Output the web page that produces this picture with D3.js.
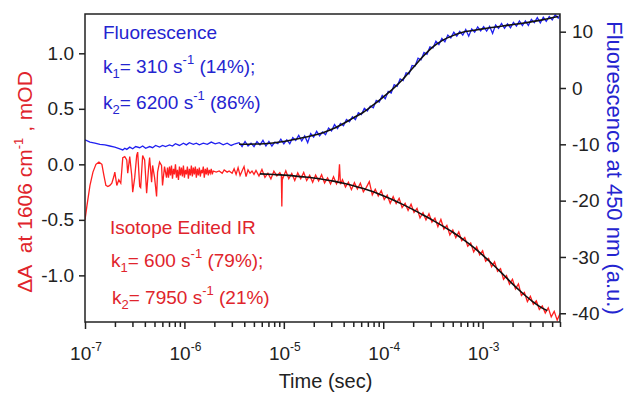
<!DOCTYPE html>
<html>
<head>
<meta charset="utf-8">
<script src="https://cdn.jsdelivr.net/npm/d3@7"></script>
<style>
  body { margin: 0; background: #fff; }
  svg { display: block; font-family: "Liberation Sans", Arial, sans-serif; }
</style>
</head>
<body>
<div id="chart"></div>
<script>
// time values are stored as log10(seconds)

// isotope edited IR trace, [log10 t, mOD]
const irRaw = [
  [-7.00,-0.50],[-6.98,-0.37],[-6.95,-0.19],[-6.92,-0.07],[-6.89,0.00],[-6.86,0.02],[-6.83,0.00],[-6.81,-0.10],
  [-6.79,-0.19],[-6.77,-0.20],[-6.75,-0.19],[-6.73,-0.17],[-6.71,-0.11],[-6.70,-0.07],[-6.68,-0.19],[-6.66,-0.14],
  [-6.64,-0.17],[-6.62,0.06],[-6.60,0.07],[-6.58,0.04],[-6.57,-0.08],[-6.55,0.07],[-6.53,-0.10],[-6.52,-0.25],
  [-6.50,-0.12],[-6.48,0.08],[-6.47,0.11],[-6.45,-0.20],[-6.44,-0.21],[-6.42,0.08],[-6.40,0.04],[-6.38,-0.26],
  [-6.36,-0.03],[-6.35,0.06],[-6.33,-0.16],[-6.32,-0.01],[-6.30,-0.12],[-6.28,-0.29],[-6.27,-0.07],[-6.25,0.02],
  [-6.23,-0.01],[-6.22,-0.19],[-6.20,-0.02],[-6.18,-0.12],
  [-6.17,-0.03],[-6.16,-0.12],[-6.15,-0.02],[-6.14,-0.10],[-6.13,-0.01],[-6.12,-0.13],[-6.11,-0.04],[-6.10,-0.09],
  [-6.09,0.00],[-6.08,-0.12],[-6.07,-0.05],[-6.06,-0.14],[-6.05,-0.02],[-6.04,-0.10],[-6.03,-0.03],[-6.02,-0.11],
  [-6.01,-0.01],[-6.00,-0.12],[-5.99,-0.05],[-5.98,-0.09],[-5.97,-0.02],[-5.96,-0.13],[-5.95,-0.04],[-5.94,-0.10],
  [-5.93,-0.01],[-5.92,-0.11],[-5.91,-0.03],[-5.90,-0.09],[-5.89,-0.02],[-5.88,-0.12],[-5.87,-0.04],[-5.86,-0.10],
  [-5.85,-0.03],[-5.84,-0.11],[-5.83,-0.05],[-5.82,-0.08],[-5.81,-0.02],[-5.80,-0.12],[-5.79,-0.04],[-5.78,-0.09],
  [-5.77,-0.03],[-5.76,-0.10],[-5.75,-0.05],[-5.74,-0.08],[-5.73,-0.04],[-5.72,-0.09],[-5.71,-0.06],
  [-5.68,-0.07],[-5.65,-0.06],[-5.62,-0.08],[-5.60,-0.05],[-5.57,-0.07],[-5.55,-0.06],[-5.52,-0.08],[-5.50,-0.04],
  [-5.48,-0.09],[-5.46,-0.03],[-5.44,-0.10],[-5.42,-0.06],[-5.40,-0.02],[-5.38,-0.11],[-5.36,-0.05],[-5.34,-0.08],
  [-5.32,-0.06],[-5.30,-0.09],
  [-5.28,-0.055],[-5.25,-0.106],[-5.22,-0.047],[-5.19,-0.118],[-5.16,-0.080],[-5.13,-0.131],[-5.10,-0.062],[-5.07,-0.104],
  [-5.04,-0.075],[-5.025,-0.10],[-5.02,-0.38],[-5.015,-0.11],[-5.01,-0.127],[-4.98,-0.058],[-4.95,-0.130],[-4.92,-0.083],
  [-4.89,-0.145],[-4.86,-0.077],[-4.83,-0.130],[-4.80,-0.073],[-4.77,-0.146],[-4.74,-0.099],[-4.71,-0.162],[-4.68,-0.096],
  [-4.65,-0.150],[-4.62,-0.093],[-4.59,-0.167],[-4.56,-0.122],[-4.53,-0.177],[-4.50,-0.111],[-4.47,-0.177],[-4.45,-0.14],
  [-4.44,0.00],[-4.43,-0.18],[-4.41,-0.138],[-4.38,-0.204],[-4.35,-0.161],[-4.32,-0.228],[-4.29,-0.165],[-4.26,-0.222],
  [-4.23,-0.170],[-4.20,-0.248],[-4.17,-0.207],[-4.14,-0.156],[-4.11,-0.275],[-4.08,-0.225],[-4.05,-0.285],[-4.02,-0.236],
  [-3.99,-0.317],[-3.96,-0.278],[-3.93,-0.350],[-3.90,-0.291],[-3.87,-0.354],[-3.84,-0.306],[-3.81,-0.389],[-3.78,-0.352],
  [-3.75,-0.416],[-3.72,-0.359],[-3.69,-0.433],[-3.66,-0.397],[-3.63,-0.482],[-3.60,-0.436],[-3.57,-0.501],[-3.54,-0.445],
  [-3.51,-0.520],[-3.48,-0.485],[-3.45,-0.561],[-3.42,-0.497],[-3.39,-0.583],[-3.36,-0.549],[-3.33,-0.636],[-3.30,-0.592],
  [-3.27,-0.660],[-3.24,-0.609],[-3.21,-0.688],[-3.18,-0.658],[-3.15,-0.738],[-3.12,-0.708],[-3.09,-0.789],[-3.06,-0.742],
  [-3.03,-0.815],[-3.00,-0.778],[-2.97,-0.873],[-2.94,-0.847],[-2.91,-0.922],[-2.88,-0.877],[-2.85,-0.963],[-2.82,-0.939],
  [-2.79,-1.035],[-2.76,-1.002],[-2.73,-1.079],[-2.70,-1.036],[-2.67,-1.121],[-2.64,-1.076],[-2.61,-1.181],[-2.58,-1.154],
  [-2.55,-1.237],[-2.52,-1.189],[-2.49,-1.260],[-2.46,-1.229],[-2.43,-1.307],[-2.40,-1.275],[-2.37,-1.339],[-2.34,-1.292],
  [-2.31,-1.374],[-2.28,-1.324],[-2.25,-1.403],[-2.22,-1.342]
];

// black fit through the IR trace
const irFit = [
  [-5.24,-0.086],[-5.1,-0.092],[-5.0,-0.097],[-4.9,-0.104],[-4.8,-0.113],[-4.7,-0.123],[-4.6,-0.136],[-4.5,-0.151],
  [-4.4,-0.170],[-4.3,-0.192],[-4.2,-0.218],[-4.1,-0.248],[-4.0,-0.283],[-3.9,-0.321],[-3.8,-0.363],[-3.7,-0.408],
  [-3.6,-0.456],[-3.5,-0.505],[-3.4,-0.557],[-3.3,-0.612],[-3.2,-0.674],[-3.1,-0.742],[-3.0,-0.818],[-2.9,-0.900],
  [-2.8,-0.986],[-2.7,-1.076],[-2.6,-1.159],[-2.5,-1.234],[-2.4,-1.295],[-2.35,-1.318]
];

// fluorescence trace, [log10 t, a.u.]
const flRaw = [
  [-7.00,-9.2],[-6.95,-9.6],[-6.90,-9.8],[-6.85,-10.0],[-6.80,-10.1],[-6.75,-10.3],[-6.70,-10.5],[-6.65,-10.8],
  [-6.62,-11.0],[-6.60,-10.7],[-6.58,-10.9],[-6.55,-10.5],[-6.52,-10.8],[-6.49,-10.4],[-6.45,-10.6],[-6.42,-10.3],
  [-6.39,-10.7],[-6.35,-10.4],[-6.32,-10.6],[-6.29,-10.2],[-6.25,-10.5],[-6.22,-10.2],[-6.19,-10.4],[-6.15,-10.1],
  [-6.12,-10.3],[-6.09,-9.9],[-6.05,-10.2],[-6.01,-9.8],[-5.98,-10.1],[-5.95,-9.7],[-5.91,-10.0],[-5.88,-9.8],
  [-5.85,-10.1],[-5.81,-9.8],[-5.77,-10.0],[-5.73,-9.6],[-5.69,-9.9],[-5.65,-9.7],[-5.61,-10.1],[-5.57,-9.8],
  [-5.53,-10.2],[-5.49,-9.9],
  [-5.45,-9.7],[-5.42,-10.4],[-5.39,-9.5],[-5.36,-10.3],[-5.33,-9.8],[-5.30,-10.4],[-5.27,-9.5],[-5.24,-10.1],
  [-5.21,-9.3],[-5.18,-10.3],[-5.15,-9.5],[-5.12,-10.3],[-5.09,-9.6],[-5.06,-9.9],[-5.03,-9.1],[-5.00,-9.9],
  [-4.97,-9.2],[-4.94,-9.9],[-4.91,-8.8],[-4.88,-9.3],[-4.85,-8.4],[-4.82,-9.4],[-4.79,-8.5],[-4.76,-9.7],
  [-4.73,-8.1],[-4.70,-8.7],[-4.67,-7.7],[-4.64,-8.5],[-4.61,-7.8],[-4.58,-8.3],[-4.55,-7.1],[-4.52,-7.6],
  [-4.49,-6.5],[-4.46,-7.2],[-4.43,-6.3],[-4.40,-6.7],[-4.37,-5.6],[-4.34,-6.0],[-4.31,-5.1],[-4.28,-5.6],
  [-4.25,-4.4],[-4.22,-4.7],[-4.19,-3.6],[-4.16,-4.1],[-4.13,-3.2],[-4.10,-3.5],[-4.07,-2.2],[-4.04,-2.5],
  [-4.01,-1.3],[-3.98,-1.9],[-3.95,-0.6],[-3.92,-0.9],[-3.89,0.6],[-3.86,0.3],[-3.83,1.6],[-3.80,1.3],
  [-3.77,2.7],[-3.74,2.5],[-3.71,4.0],[-3.68,3.9],[-3.65,5.3],[-3.62,5.0],[-3.59,6.3],[-3.56,6.0],
  [-3.53,7.3],[-3.50,7.1],[-3.47,8.3],[-3.44,7.7],[-3.41,8.8],[-3.38,8.2],[-3.35,9.4],[-3.32,8.9],
  [-3.29,9.9],[-3.26,9.2],[-3.23,10.05],[-3.20,9.4],[-3.17,10.4],[-3.14,9.2],[-3.11,10.5],[-3.08,9.9],
  [-3.05,10.85],[-3.02,10.15],[-2.99,10.9],[-2.96,10.1],[-2.93,10.95],[-2.90,9.7],[-2.87,11.2],[-2.84,10.6],
  [-2.81,11.45],[-2.78,10.6],[-2.75,11.4],[-2.72,10.7],[-2.69,11.65],[-2.66,11.0],[-2.63,11.9],[-2.60,11.1],
  [-2.57,11.9],[-2.54,11.1],[-2.51,12.2],[-2.48,11.6],[-2.45,12.5],[-2.42,11.55],[-2.39,12.55],[-2.36,11.85],
  [-2.33,12.7],[-2.30,12.1],[-2.27,13.0],[-2.24,12.4],[-2.22,13.1]
];

// black fit through the fluorescence trace
const flFit = [
  [-5.45,-10.0],[-5.2,-9.9],[-5.0,-9.5],[-4.8,-8.8],[-4.6,-7.9],[-4.5,-7.2],[-4.4,-6.3],[-4.3,-5.3],
  [-4.2,-4.3],[-4.1,-3.0],[-4.0,-1.6],[-3.9,-0.1],[-3.8,1.6],[-3.7,3.6],[-3.6,5.6],[-3.5,7.3],
  [-3.4,8.5],[-3.3,9.3],[-3.2,9.9],[-3.1,10.2],[-3.0,10.5],[-2.8,11.0],[-2.6,11.5],[-2.4,12.1],[-2.24,12.7]
];

const xMajor = [1e-7, 1e-6, 1e-5, 1e-4, 1e-3];
const xMajorExp = ["-7", "-6", "-5", "-4", "-3"];
const leftTicks = [-1.0, -0.5, 0.0, 0.5, 1.0];
const rightTicks = [-40, -30, -20, -10, 0, 10];

const width = 630, height = 396;
const margin = {top: 14, right: 70, bottom: 74, left: 85};
const x0 = margin.left, x1 = width - margin.right;
const y0 = margin.top, y1 = height - margin.bottom;

const RED = "#ff1f1f", BLUE = "#2020f0";
const RED_TXT = "#e0242c", BLUE_TXT = "#2424d0";

const svg = d3.select("#chart").append("svg")
  .attr("width", width)
  .attr("height", height);

const x = d3.scaleLog().domain([1e-7, 6e-3]).range([x0, x1]);
const yL = d3.scaleLinear().domain([-1.42, 1.354]).range([y1, y0]);
const yR = d3.scaleLinear().domain([-41.55, 13.14]).range([y1, y0]);

svg.append("defs").append("clipPath").attr("id", "plot")
  .append("rect").attr("x", x0).attr("y", y0).attr("width", x1 - x0).attr("height", y1 - y0);

const plot = svg.append("g").attr("clip-path", "url(#plot)");

const lineL = d3.line().x(d => x(Math.pow(10, d[0]))).y(d => yL(d[1]));
const lineR = d3.line().x(d => x(Math.pow(10, d[0]))).y(d => yR(d[1]));
const fitL = d3.line().curve(d3.curveMonotoneX).x(d => x(Math.pow(10, d[0]))).y(d => yL(d[1]));
const fitR = d3.line().curve(d3.curveMonotoneX).x(d => x(Math.pow(10, d[0]))).y(d => yR(d[1]));

plot.append("path").datum(irRaw).attr("d", lineL)
  .attr("fill", "none").attr("stroke", RED).attr("stroke-width", 1.3);
plot.append("path").datum(flRaw).attr("d", lineR)
  .attr("fill", "none").attr("stroke", BLUE).attr("stroke-width", 1.3);
plot.append("path").datum(irFit).attr("d", fitL)
  .attr("fill", "none").attr("stroke", "#111").attr("stroke-width", 1.6);
plot.append("path").datum(flFit).attr("d", fitR)
  .attr("fill", "none").attr("stroke", "#111").attr("stroke-width", 1.6);

// frame
svg.append("rect")
  .attr("x", x0).attr("y", y0).attr("width", x1 - x0).attr("height", y1 - y0)
  .attr("fill", "none").attr("stroke", "#222").attr("stroke-width", 1.5);

// axes
const styleAxis = g => {
  g.select(".domain").remove();
  g.selectAll(".tick line").attr("stroke", "#222").attr("stroke-width", 1.5);
  g.selectAll(".tick text").attr("fill", "#222").style("font-size", "19px")
    .style("font-family", "'Liberation Sans', Arial, sans-serif");
};

svg.append("g").attr("transform", `translate(${x0},0)`)
  .call(d3.axisLeft(yL).tickValues(leftTicks).tickSize(6).tickPadding(5).tickFormat(d => d.toFixed(1)))
  .call(styleAxis);

svg.append("g").attr("transform", `translate(${x1},0)`)
  .call(d3.axisRight(yR).tickValues(rightTicks).tickSize(6).tickPadding(6).tickFormat(d => String(d)))
  .call(styleAxis);

const xMinor = [];
[1e-7, 1e-6, 1e-5, 1e-4, 1e-3].forEach(dec => {
  for (let m = 2; m <= 9; m++) if (dec * m <= 6e-3) xMinor.push(dec * m);
});

svg.append("g").attr("transform", `translate(0,${y1})`)
  .call(d3.axisBottom(x).tickValues(xMajor).tickSize(7).tickFormat(""))
  .call(styleAxis);
svg.append("g").attr("transform", `translate(0,${y1})`)
  .call(d3.axisBottom(x).tickValues(xMinor).tickSize(5).tickFormat(""))
  .call(styleAxis);

xMajor.forEach((v, i) => {
  const t = svg.append("text")
    .attr("x", x(v) + 1).attr("y", y1 + 38)
    .attr("text-anchor", "middle")
    .attr("fill", "#222").style("font-size", "19px");
  t.append("tspan").text("10");
  t.append("tspan").attr("dy", -9).style("font-size", "12px").text(xMajorExp[i]);
});

svg.append("text")
  .attr("x", (x0 + x1) / 2 + 3).attr("y", y1 + 66)
  .attr("text-anchor", "middle").attr("fill", "#222")
  .style("font-size", "20px").text("Time (sec)");

// y titles
const yTitleL = svg.append("text")
  .attr("transform", `translate(32,${(y0 + y1) / 2 + 14}) rotate(-90)`)
  .attr("text-anchor", "middle").attr("fill", RED_TXT).style("font-size", "21px");
yTitleL.append("tspan").text("\u0394A\u00a0 at 1606 cm");
yTitleL.append("tspan").attr("dy", -9).style("font-size", "13px").text("-1");
yTitleL.append("tspan").attr("dy", 9).text(" , mOD");

svg.append("text")
  .attr("transform", `translate(607,${(y0 + y1) / 2}) rotate(90)`)
  .attr("text-anchor", "middle").attr("fill", BLUE_TXT).style("font-size", "22px")
  .text("Fluorescence at 450 nm (a.u.)");

// fit annotations
const rateLabel = (px, py, color, sub, val, tail) => {
  const t = svg.append("text").attr("x", px).attr("y", py)
    .attr("fill", color).style("font-size", "19px");
  t.append("tspan").text("k");
  t.append("tspan").attr("dy", 5).style("font-size", "13px").text(sub);
  t.append("tspan").attr("dy", -5).text("= " + val + " s");
  t.append("tspan").attr("dy", -9).style("font-size", "13px").text("-1");
  t.append("tspan").attr("dy", 9).text(" " + tail);
};

svg.append("text").attr("x", 103).attr("y", 39).attr("fill", BLUE_TXT)
  .style("font-size", "19px").text("Fluorescence");
rateLabel(103, 73, BLUE_TXT, "1", "310", "(14%);");
rateLabel(103, 109, BLUE_TXT, "2", "6200", "(86%)");

svg.append("text").attr("x", 110).attr("y", 234).attr("fill", RED_TXT)
  .style("font-size", "19px").text("Isotope Edited IR");
rateLabel(111, 267, RED_TXT, "1", "600", "(79%);");
rateLabel(112, 304, RED_TXT, "2", "7950", "(21%)");
</script>
</body>
</html>
